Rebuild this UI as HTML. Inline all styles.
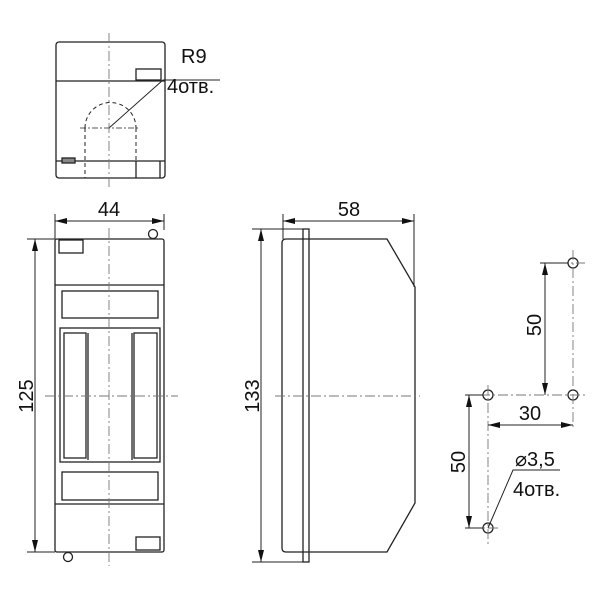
<!DOCTYPE html>
<html><head><meta charset="utf-8"><style>body{margin:0;background:#fff}svg{display:block}text{font-family:"Liberation Sans",sans-serif;fill:#111}</style></head><body>
<svg width="600" height="600" viewBox="0 0 600 600" xmlns="http://www.w3.org/2000/svg">
<defs>
<marker id="a" viewBox="0 0 12 6" refX="12" refY="3" markerWidth="12" markerHeight="6" orient="auto-start-reverse" markerUnits="userSpaceOnUse"><path d="M0,0L12,3L0,6z" fill="#111"/></marker>
</defs>
<g fill="none" stroke="#222" stroke-width="1.3">
<rect x="56" y="42" width="109" height="136" rx="3"/>
<line x1="56" y1="81" x2="165" y2="81"/>
<rect x="136" y="69" width="25" height="11"/>
<line x1="56" y1="161" x2="165" y2="161"/>
<rect x="62" y="158" width="13" height="5" fill="#888"/>
<line x1="136" y1="161" x2="136" y2="178"/><line x1="160" y1="161" x2="160" y2="178"/>
<path d="M85,128 A25,25 0 0 1 136,128 M85,128 V178 M136,128 V161" stroke-dasharray="4,3" stroke-width="1"/>
<line x1="80" y1="128" x2="140" y2="128" stroke-dasharray="6,2,2,2" stroke-width="0.8"/>
<path d="M109,128 L163,80 H220" stroke-width="1"/>
<rect x="55" y="239" width="109" height="313" rx="2"/>
<line x1="55" y1="285" x2="164" y2="285"/>
<rect x="62" y="291" width="96" height="27"/>
<rect x="60" y="328" width="100" height="134"/>
<rect x="64" y="333" width="22" height="125"/>
<rect x="134" y="333" width="23" height="125"/>
<line x1="88" y1="333" x2="88" y2="460"/><line x1="132" y1="333" x2="132" y2="460"/>
<rect x="62" y="472" width="96" height="28"/>
<line x1="55" y1="504" x2="164" y2="504"/>
<rect x="59" y="240" width="24" height="13"/>
<rect x="136" y="537" width="24" height="13"/>
<circle cx="153" cy="234" r="4.5"/><circle cx="68" cy="557" r="4.5"/>
<path d="M286,239 H387 L415,287 V503 L387,552 H286 Q282,552 282,548 V243 Q282,239 286,239 Z"/>
<rect x="303" y="229" width="6" height="333"/>
<circle cx="573" cy="263" r="5"/><circle cx="488" cy="395" r="5"/><circle cx="573" cy="395" r="5"/><circle cx="488" cy="528" r="5"/>
<path d="M488,528 L513,470 H560" stroke-width="1"/>
</g>
<g stroke="#777" stroke-width="0.9" stroke-dasharray="10,3,2,3" fill="none">
<line x1="109" y1="33" x2="109" y2="190"/>
<line x1="109" y1="228" x2="109" y2="566"/>
<line x1="45" y1="396" x2="178" y2="396"/>
<line x1="275" y1="396" x2="420" y2="396"/>
<line x1="480" y1="395" x2="585" y2="395"/>
<line x1="540" y1="263" x2="585" y2="263"/>
<line x1="488" y1="385" x2="488" y2="545"/>
<line x1="573" y1="250" x2="573" y2="430"/>
<line x1="470" y1="528" x2="500" y2="528"/>
</g>
<g stroke="#222" stroke-width="1" fill="none">
<line x1="55" y1="214" x2="55" y2="239"/><line x1="164" y1="214" x2="164" y2="230"/>
<line x1="55" y1="221" x2="164" y2="221" marker-start="url(#a)" marker-end="url(#a)"/>
<line x1="27" y1="239" x2="55" y2="239"/><line x1="27" y1="552" x2="55" y2="552"/>
<line x1="35" y1="239" x2="35" y2="552" marker-start="url(#a)" marker-end="url(#a)"/>
<line x1="283" y1="214" x2="283" y2="239"/><line x1="414" y1="214" x2="414" y2="287"/>
<line x1="283" y1="221" x2="414" y2="221" marker-start="url(#a)" marker-end="url(#a)"/>
<line x1="252" y1="229" x2="303" y2="229"/><line x1="252" y1="562" x2="303" y2="562"/>
<line x1="261" y1="229" x2="261" y2="562" marker-start="url(#a)" marker-end="url(#a)"/>
<line x1="545" y1="263" x2="545" y2="395" marker-start="url(#a)" marker-end="url(#a)"/>
<line x1="540" y1="263" x2="568" y2="263"/>
<line x1="488" y1="425" x2="573" y2="425" marker-start="url(#a)" marker-end="url(#a)"/>
<line x1="469" y1="395" x2="469" y2="528" marker-start="url(#a)" marker-end="url(#a)"/>
<line x1="465" y1="395" x2="483" y2="395"/><line x1="465" y1="528" x2="483" y2="528"/>
</g>
<g font-size="20">
<text x="109" y="216" text-anchor="middle">44</text>
<text x="349" y="216" text-anchor="middle">58</text>
<text x="181" y="63">R9</text>
<text x="167" y="93">4отв.</text>
<text transform="translate(33,396) rotate(-90)" text-anchor="middle">125</text>
<text transform="translate(259,396) rotate(-90)" text-anchor="middle">133</text>
<text transform="translate(541,325) rotate(-90)" text-anchor="middle">50</text>
<text transform="translate(465,462) rotate(-90)" text-anchor="middle">50</text>
<text x="530" y="420" text-anchor="middle">30</text>
<text x="515" y="466">⌀3,5</text>
<text x="513" y="496">4отв.</text>
</g>
</svg>
</body></html>
